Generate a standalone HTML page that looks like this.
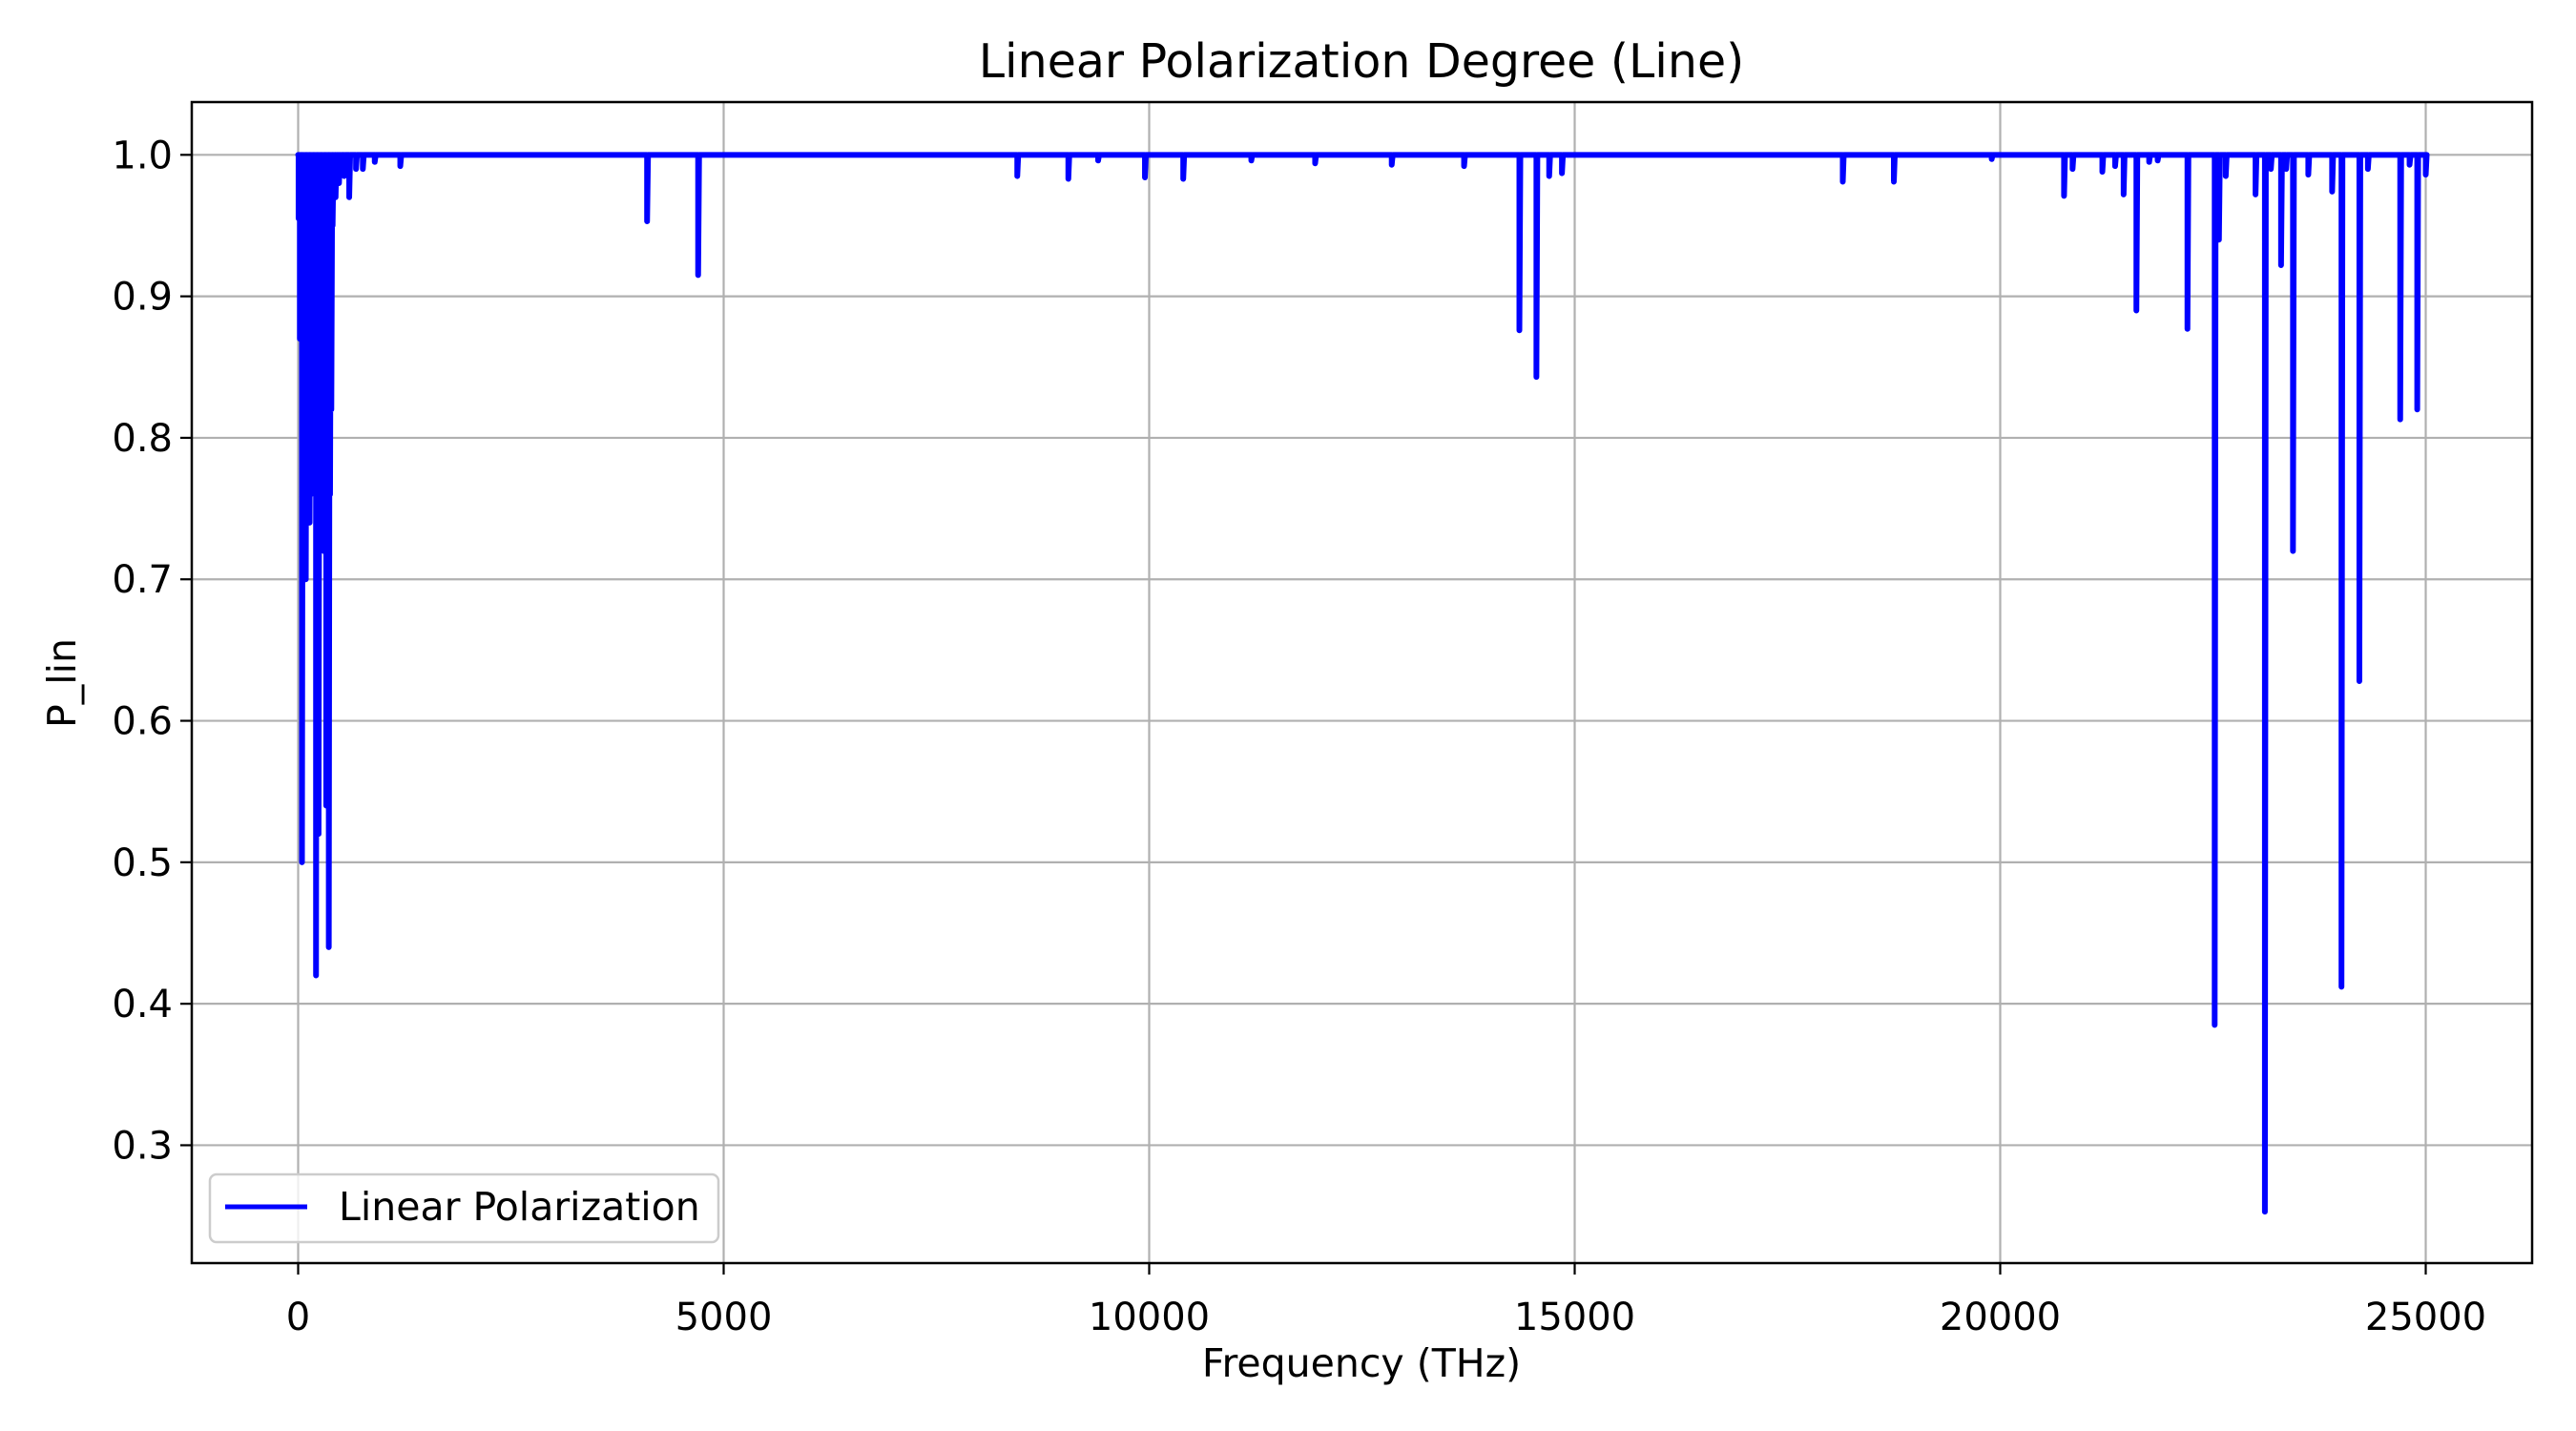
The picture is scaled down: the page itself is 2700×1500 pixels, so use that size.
<!DOCTYPE html>
<html><head><meta charset="utf-8"><style>
html,body{margin:0;padding:0;background:#fff;}
svg{display:block;font-family:"DejaVu Sans","Liberation Sans",sans-serif;}
</style></head><body>
<svg id="chart" width="2700" height="1500" viewBox="0 0 2700 1500">
<rect width="2700" height="1500" fill="#fff"/>
<g id="grid"></g>
<g id="series"></g>
<rect x="201" y="107" width="2453" height="1217" fill="none" stroke="#000" stroke-width="2.5"/>
<g id="ticks"></g>
<text x="1427" y="81" font-size="49" text-anchor="middle">Linear Polarization Degree (Line)</text>
<text x="1427" y="1443" font-size="41" text-anchor="middle">Frequency (THz)</text>
<text x="79" y="716" font-size="41" text-anchor="middle" transform="rotate(-90 79 716)">P_lin</text>
<g>
<rect x="220" y="1231" width="533" height="71" rx="7" fill="#fff" fill-opacity="0.8" stroke="#ccc" stroke-width="2.5"/>
<line x1="236" y1="1265" x2="322" y2="1265" stroke="#0000ff" stroke-width="5"/>
<text x="355" y="1279" font-size="41">Linear Polarization</text>
</g>
</svg>
<script>
const xTicks=[0,5000,10000,15000,20000,25000];
const yTicks=[0.3,0.4,0.5,0.6,0.7,0.8,0.9,1.0];
const spikeFreq=[5,20,35,45,60,75,90,105,120,135,150,165,180,195,210,225,240,255,270,285,300,315,330,345,360,375,390,405,420,440,460,480,500,540,600,680,760,900,1200,4100,4700,8450,9050,9400,9950,10400,11200,11950,12850,13700,14350,14550,14700,14850,18150,18750,19900,20750,20850,21200,21350,21450,21600,21750,21850,22200,22520,22570,22650,23000,23110,23180,23300,23360,23440,23620,23900,24010,24220,24320,24700,24810,24900,25000];
const spikeVal=[0.955,0.87,0.95,0.50,0.80,0.74,0.70,0.98,0.78,0.74,0.99,0.78,0.99,0.76,0.42,0.99,0.52,0.78,0.99,0.73,0.72,0.99,0.54,0.78,0.44,0.76,0.82,0.95,0.975,0.97,0.985,0.98,0.99,0.985,0.97,0.99,0.99,0.995,0.992,0.953,0.915,0.985,0.983,0.996,0.984,0.983,0.996,0.994,0.993,0.992,0.876,0.843,0.985,0.987,0.981,0.981,0.997,0.971,0.99,0.988,0.992,0.972,0.89,0.995,0.996,0.877,0.385,0.94,0.985,0.972,0.253,0.99,0.922,0.99,0.72,0.986,0.974,0.412,0.628,0.99,0.813,0.993,0.82,0.986];
const X0=-1250,X1=26250,Y0=0.2167,Y1=1.0373;
const L=201,R=2654,T=107,B=1324;
function sx(v){return L+(v-X0)/(X1-X0)*(R-L);}
function sy(v){return B-(v-Y0)/(Y1-Y0)*(B-T);}
const NS='http://www.w3.org/2000/svg';
const grid=document.getElementById('grid'),ticks=document.getElementById('ticks'),series=document.getElementById('series');
function mk(tag,attrs,parent){const e=document.createElementNS(NS,tag);for(const k in attrs)e.setAttribute(k,attrs[k]);parent.appendChild(e);return e;}
xTicks.forEach(t=>{
  const x=sx(t);
  const g=mk('line',{x1:x,y1:T,x2:x,y2:B,stroke:'#b0b0b0','stroke-width':2.2},grid);
  
  
  const tk=mk('line',{x1:x,y1:B,x2:x,y2:B+12,stroke:'#000','stroke-width':2.2},ticks);
  
  
  const tx=mk('text',{x:x,y:B+70,'font-size':40,'text-anchor':'middle'},ticks);
  tx.textContent=String(t);
  
  
});
yTicks.forEach(t=>{
  const y=sy(t);
  const g=mk('line',{x1:L,y1:y,x2:R,y2:y,stroke:'#b0b0b0','stroke-width':2.2},grid);
  
  
  const tk=mk('line',{x1:L-12,y1:y,x2:L,y2:y,stroke:'#000','stroke-width':2.2},ticks);
  
  
  const tx=mk('text',{x:L-20,y:y+14,'font-size':40,'text-anchor':'end'},ticks);
  tx.textContent=t.toFixed(1);
  
  
});
let d='M'+sx(0)+' '+sy(1);
spikeFreq.forEach((f,i)=>{
  d+=' L'+sx(f)+' '+sy(1)+' L'+sx(f)+' '+sy(spikeVal[i])+' L'+(sx(f)+1)+' '+sy(1);
});
d+=' L'+sx(25000)+' '+sy(1);
const p=mk('path',{d:d,fill:'none',stroke:'#0000ff','stroke-width':6,'stroke-linejoin':'round','stroke-linecap':'round'},series);


</script>
</body></html>
